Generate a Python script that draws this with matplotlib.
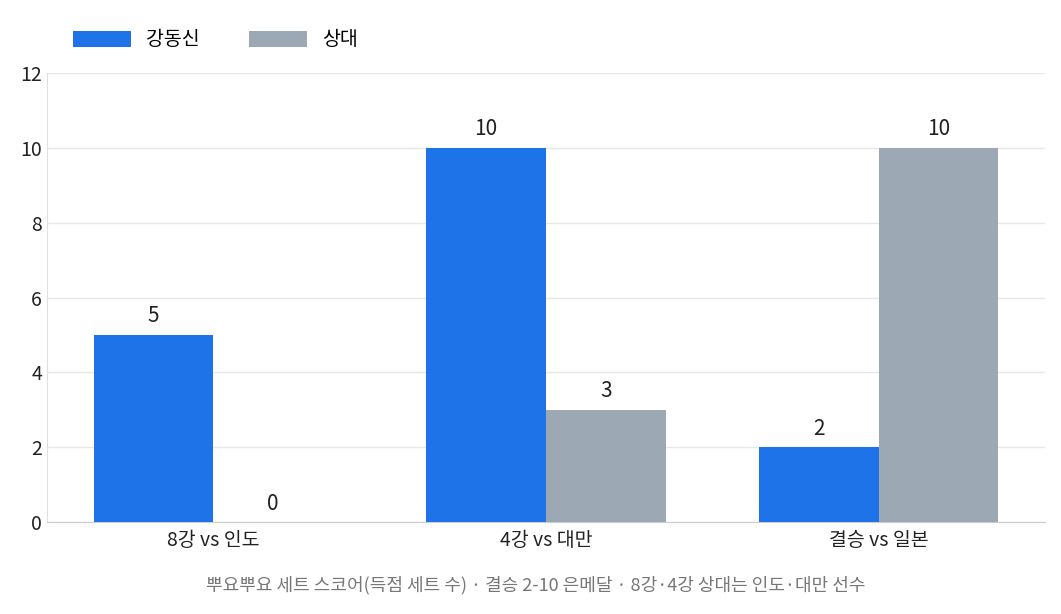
import numpy as np
import matplotlib.pyplot as plt

plt.rcParams['font.family'] = ['Noto Sans CJK KR', 'DejaVu Sans']

categories = ['8강 vs 인도', '4강 vs 대만', '결승 vs 일본']
kang = [5, 10, 2]
opp = [0, 3, 10]
labels = ['강동신', '상대']
caption = '뿌요뿌요 세트 스코어(득점 세트 수) · 결승 2-10 은메달 · 8강·4강 상대는 인도·대만 선수'

blue = '#1f73e8'
gray = '#9ca8b4'

fig = plt.figure(figsize=(10.61, 6.14), dpi=100)
ax = fig.add_axes([47/1061, 1-522/614, (1045-47)/1061, (522-73)/614])

x = np.arange(len(categories))
w = 0.36
b1 = ax.bar(x - w/2, kang, w, color=blue, label=labels[0], zorder=3)
b2 = ax.bar(x + w/2, opp, w, color=gray, label=labels[1], zorder=3)
for bars in (b1, b2):
    for r in bars:
        ax.text(r.get_x() + r.get_width()/2, r.get_height() + 0.2, f'{int(r.get_height())}',
                ha='center', va='bottom', fontsize=15, color='#222222')

ax.set_xlim(-0.5, 2.5)
ax.set_ylim(0, 12)
ax.set_yticks(range(0, 13, 2))
ax.set_xticks(x)
ax.set_xticklabels(categories)
ax.tick_params(axis='both', labelsize=14, colors='#222222', length=0)
ax.tick_params(axis='x', pad=6)
ax.grid(axis='y', color='#e8e8e8', lw=1, zorder=0)
for s in ['top', 'right']:
    ax.spines[s].set_visible(False)
ax.spines['left'].set_color('#e0e0e0')
ax.spines['bottom'].set_color('#cccccc')

fig.legend(loc='upper left', bbox_to_anchor=(55/1061, 1-12/614), ncol=2, frameon=False,
           fontsize=14, handlelength=3, handleheight=0.9, columnspacing=2.5)
fig.text(536/1061, 1-585/614, caption, ha='center', va='center', fontsize=13, color='#777777')

fig.savefig('out.png', dpi=100)
